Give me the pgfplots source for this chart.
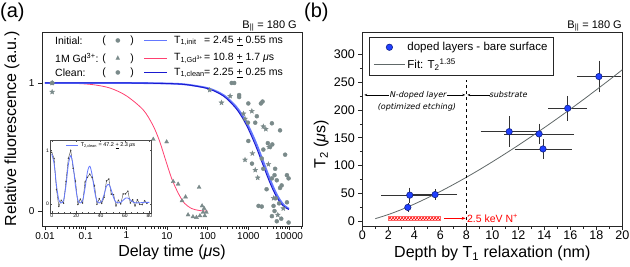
\documentclass[border=0pt]{standalone}
\usepackage{fontspec}
\setmainfont{Liberation Sans}
\newfontfamily\dejavu{DejaVu Sans}
\usepackage{pgfplots}
\pgfplotsset{compat=1.18}
\usetikzlibrary{patterns,arrows.meta}
\definecolor{ptgray}{HTML}{7A8A8A}
\definecolor{lightb}{HTML}{6478FF}
\definecolor{pinkc}{HTML}{FF4070}
\definecolor{darkb}{HTML}{1A1AD0}
\definecolor{bluept}{HTML}{2040FF}
\definecolor{bluedk}{HTML}{10208A}
\definecolor{fitgray}{HTML}{606868}
\pgfdeclareplotmark{fstar}{%
  \pgfpathmoveto{\pgfpointpolar{90}{\pgfplotmarksize}}%
  \pgfpathlineto{\pgfpointpolar{126}{0.42\pgfplotmarksize}}%
  \pgfpathlineto{\pgfpointpolar{162}{\pgfplotmarksize}}%
  \pgfpathlineto{\pgfpointpolar{198}{0.42\pgfplotmarksize}}%
  \pgfpathlineto{\pgfpointpolar{234}{\pgfplotmarksize}}%
  \pgfpathlineto{\pgfpointpolar{270}{0.42\pgfplotmarksize}}%
  \pgfpathlineto{\pgfpointpolar{306}{\pgfplotmarksize}}%
  \pgfpathlineto{\pgfpointpolar{342}{0.42\pgfplotmarksize}}%
  \pgfpathlineto{\pgfpointpolar{18}{\pgfplotmarksize}}%
  \pgfpathlineto{\pgfpointpolar{54}{0.42\pgfplotmarksize}}%
  \pgfpathclose\pgfusepathqfillstroke}
\begin{document}
\begin{tikzpicture}[x=1pt,y=1pt]
\path[use as bounding box] (0,0) rectangle (630,266);
% ---------------- panel (a) ----------------
\begin{axis}[at={(42pt,40pt)}, anchor=south west, scale only axis,
  width=260pt, height=194pt, xmode=log, xmin=0.00844, xmax=20900,
  ymin=-0.117, ymax=1.398,
  xtick={0.01,0.1,1,10,100,1000,10000},
  xticklabels={0.01,0.1,1,10,100,1000,10000},
  minor xtick={0.02,0.03,0.04,0.05,0.06,0.07,0.08,0.09,0.2,0.3,0.4,0.5,0.6,0.7,0.8,0.9,2,3,4,5,6,7,8,9,20,30,40,50,60,70,80,90,200,300,400,500,600,700,800,900,2000,3000,4000,5000,6000,7000,8000,9000,20000},
  ytick={0,1}, tick align=outside, xtick pos=left, ytick pos=left,
  major tick length=4pt, minor tick length=2.5pt,
  axis line style={black!85, line width=0.7pt}, tick style={black!85, line width=0.6pt},
  tick label style={font=\fontsize{10}{12}\selectfont},
  xticklabel style={yshift=1.5pt},
  /pgf/number format/assume math mode=true,
  label style={font=\fontsize{16}{18}\selectfont},
  xlabel={Delay time ({\itshape μ}s)},
  ylabel={Relative fluorescence (a.u.)},
  xlabel style={at={(axis description cs:0.5,-0.135)}, anchor=center},
  ylabel style={at={(axis description cs:-0.115,0.5)}, anchor=center},
]
% Initial (circles)
\addplot[only marks, mark=*, mark size=2pt, mark options={draw=ptgray, fill=ptgray}] coordinates {
(0.015,1.0)(390,1.0)(450,1.0)(594,0.906)(594,0.89)(1000,0.84)(2040,0.84)(2240,0.855)
(1620,0.74)(980,0.69)(1480,0.69)(3800,0.685)(6030,0.63)(1000,0.547)(3020,0.53)(3890,0.52)
(2340,0.48)(3430,0.50)(1230,0.37)(2140,0.41)(8040,0.44)(2340,0.33)(3800,0.255)(4410,0.28)
(5010,0.24)(4570,0.33)(8900,0.28)(9780,0.255)(6600,0.20)(6030,0.18)(2810,0.17)(4730,0.10)
(1780,0.04)(2140,0.035)(4170,0.04)(5710,0.06)(8910,0.068)(4410,0.0)(3800,-0.04)(6460,-0.06)
(5010,-0.08)(9780,-0.09)};
% Clean (stars)
\addplot[only marks, mark=fstar, mark size=2.6pt, mark options={draw=ptgray, fill=ptgray, line width=0.3pt}] coordinates {
(0.015,1.0)(0.015,0.93)(112,0.945)(219,0.846)(357,0.898)(760,0.76)(1220,0.78)(830,0.72)
(2340,0.66)(2690,0.64)(3240,0.50)(830,0.40)(1260,0.45)(1480,0.32)(1700,0.26)(3120,0.365)
(4170,0.10)(7250,0.02)(5310,-0.03)};
% Gd (triangles)
\addplot[only marks, mark=triangle*, mark size=2.3pt, mark options={draw=ptgray, fill=ptgray}] coordinates {
(0.015,1.0)(4.6,0.56)(9.8,0.54)(14.2,0.23)(18.8,0.21)(28.6,0.11)(23.4,0.08)(61.6,0.185)
(73,0.04)(82,0.02)(93,-0.01)(33,-0.03)(43.5,-0.045)(53,-0.05)(64.6,-0.037)(85,-0.037)(77,-0.01)};
% fits
\addplot[pinkc, line width=0.8pt, smooth] coordinates {
(0.01,1)(0.05,0.997)(0.15,0.987)(0.4,0.96)(1,0.9)(2.6,0.79)(4.5,0.67)(6.5,0.55)(9,0.41)
(13,0.255)(19,0.138)(27,0.06)(40,0.02)(50,0.01)(70,0.002)(100,0)};
\addplot[lightb, line width=1.8pt, smooth] coordinates {
(0.01,1)(1,1)(10,0.99593)(30,0.98783)(100,0.96)(200,0.92162)(300,0.88475)(500,0.81539)
(700,0.75148)(1000,0.66487)(1500,0.54216)(2000,0.44205)(3000,0.29391)(4000,0.19543)
(5000,0.12994)(6000,0.0864)(7000,0.05743)(8000,0.03818)(10000,0.01688)};
\addplot[darkb, line width=1pt, smooth] coordinates {
(0.01,1)(1,1)(10,0.99556)(30,0.98676)(100,0.95652)(200,0.91494)(300,0.87517)(500,0.80074)
(700,0.73263)(1000,0.64118)(1500,0.51342)(2000,0.41111)(3000,0.2636)(4000,0.16901)
(5000,0.10836)(6000,0.06948)(7000,0.04455)(8000,0.02856)(10000,0.01174)};
\end{axis}
% ---------------- inset ----------------
\begin{axis}[at={(50pt,52.7pt)}, anchor=south west, scale only axis,
  width=101.7pt, height=73.3pt, xmin=-1.4, xmax=81.9, ymin=-0.175, ymax=1.2,
  axis background/.style={fill=white},
  axis line style={black!70, line width=0.5pt},
  xtick={0,20,40,60,80}, ytick={0,1}, minor x tick num=3,
  major tick length=2pt, minor tick length=1pt, tick style={black!70, line width=0.4pt},
  tick label style={font=\fontsize{5}{6}\selectfont, inner sep=1pt},
  /pgf/number format/assume math mode=true,
  legend style={at={(axis description cs:0.15,1.0)}, anchor=north west, draw=none, fill=none,
    font=\fontsize{5.5}{6}\selectfont, inner sep=0.5pt},
  legend image code/.code={\draw[#1] (0pt,0pt) -- (12pt,0pt);},
]
\addplot[black!75, line width=0.4pt, mark=*, mark size=0.45pt, forget plot] coordinates {
(0,0.97)(1.95,0.856)(3.9,0.271)(5.85,-0.045)(7.8,0.07)(9.75,0.015)(11.7,0.426)(13.65,0.858)
(15.6,1.007)(17.55,0.669)(19.5,0.429)(21.45,-0.01)(23.4,0.09)(25.35,0.017)(27.3,0.413)
(29.25,0.5)(31.2,0.559)(33.15,0.491)(35.1,0.34)(37.05,-0.006)(39,0.1)(40.95,0.009)
(42.9,0.126)(44.85,0.432)(46.8,0.467)(48.75,0.184)(50.7,0.176)(52.65,-0.036)(54.6,0.07)
(56.55,0.0)(58.5,0.189)(60.45,0.19)(62.4,0.241)(64.35,0.018)(66.3,0.081)(68.25,-0.037)
(70.2,0.08)(72.15,-0.008)(74.1,-0.013)(76.05,0.061)(78,0.01)};
\addplot[lightb, line width=0.8pt, smooth] coordinates {
(0,0.94)(1.95,0.756)(3.9,0.351)(5.85,0.075)(7.8,0.02)(9.75,0.075)(11.7,0.346)(13.65,0.738)
(15.6,0.907)(17.55,0.719)(19.5,0.329)(21.45,0.07)(23.4,0.02)(25.35,0.067)(27.3,0.293)
(29.25,0.6)(31.2,0.709)(33.15,0.541)(35.1,0.24)(37.05,0.054)(39,0.02)(40.95,0.049)
(42.9,0.176)(44.85,0.332)(46.8,0.367)(48.75,0.264)(50.7,0.116)(52.65,0.034)(54.6,0.02)
(56.55,0.03)(58.5,0.069)(60.45,0.11)(62.4,0.111)(64.35,0.078)(66.3,0.041)(68.25,0.023)
(70.2,0.02)(72.15,0.022)(74.1,0.027)(76.05,0.031)(78,0.03)(80,0.03)};
\addlegendentry{T\textsubscript{2,clean} = 47.2 \underline{+} 2.3 {\itshape μ}s}
\end{axis}
% legend of (a)
\begin{scope}[every node/.style={inner sep=0pt, font=\fontsize{10.5}{12}\selectfont}]
\node[anchor=west] at (55,225.3) {Initial:};
\node[anchor=west] at (55,207.7) {1M Gd\textsuperscript{3+}:};
\node[anchor=west] at (55,193.3) {Clean:};
\foreach \yy in {225.3,207.7,193.3} {
  \node at (104,\yy) {(};
  \node at (132,\yy) {)};
}
\node[text=ptgray, font=\dejavu\fontsize{6}{7}\selectfont] at (118,225.3) {●};
\node[text=ptgray, font=\dejavu\fontsize{6}{7}\selectfont] at (118,207.7) {▲};
\node[text=ptgray, font=\dejavu\fontsize{6}{7}\selectfont] at (118,193.3) {●};
\draw[lightb, line width=1.3pt] (144,225.3) -- (167,225.3);
\draw[pinkc, line width=0.8pt] (144,207.7) -- (167,207.7);
\draw[darkb, line width=1.1pt] (144,193.3) -- (167,193.3);
\node[anchor=west] at (174,225.3) {T\textsubscript{1,init}};
\node[anchor=west] at (174,207.7) {T\textsubscript{1,Gd\textsuperscript{3+}}};
\node[anchor=west] at (174,193.3) {T\textsubscript{1,clean}};
\node[anchor=west] at (204,225.3) {= 2.45 \underline{+} 0.55 ms};
\node[anchor=west] at (204,207.7) {= 10.8 \underline{+} 1.7 {\itshape μ}s};
\node[anchor=west] at (204,193.3) {= 2.25 \underline{+} 0.25 ms};
\end{scope}
\node[anchor=north west, inner sep=0pt, font=\fontsize{20}{22}\selectfont] at (0,263) {(a)};
\node[anchor=north west, inner sep=0pt, font=\fontsize{20}{22}\selectfont] at (304,263) {(b)};
\node[anchor=base east, inner sep=0pt, font=\fontsize{11}{13}\selectfont] at (297,238) {B\textsubscript{||} = 180 G};
\node[anchor=base east, inner sep=0pt, font=\fontsize{11}{13}\selectfont] at (622,238) {B\textsubscript{||} = 180 G};
% ---------------- panel (b) ----------------
\begin{axis}[at={(362.3pt,40pt)}, anchor=south west, scale only axis,
  width=260pt, height=194pt, xmin=0, xmax=20, ymin=-8.4, ymax=340,
  xtick={0,2,...,20}, ytick={0,50,...,300}, minor x tick num=1, minor y tick num=1,
  tick align=outside, xtick pos=left, ytick pos=left,
  major tick length=4pt, minor tick length=2.5pt,
  axis line style={black!85, line width=0.7pt}, tick style={black!85, line width=0.6pt},
  tick label style={font=\fontsize{12.5}{14}\selectfont},
  xticklabel style={yshift=2.5pt},
  /pgf/number format/assume math mode=true,
  label style={font=\fontsize{16}{18}\selectfont},
  xlabel={Depth by T\textsubscript{1} relaxation (nm)},
  ylabel={T\textsubscript{2} ({\itshape μ}s)},
  xlabel style={at={(axis description cs:0.5,-0.142)}, anchor=center},
  ylabel style={at={(axis description cs:-0.158,0.42)}, anchor=center},
  legend style={at={(axis description cs:0.026,0.974)}, anchor=north west,
    draw=black!85, line width=0.6pt, font=\fontsize{11.5}{13}\selectfont,
    inner xsep=4pt, inner ysep=3pt, row sep=2.5pt},
  legend cell align=left,
  legend image code/.code={\draw[mark repeat=2, mark phase=2, #1] plot coordinates {(0cm,0cm) (0.55cm,0cm) (1.1cm,0cm)};},
]
\addplot[pattern=crosshatch, pattern color=red, draw=red!60, line width=0.3pt, forget plot] coordinates {(2,2.5)(6,2.5)(6,9.5)(2,9.5)(2,2.5)};
\addplot[only marks, mark=*, mark size=3.2pt, mark options={fill=bluept, draw=bluedk, line width=0.6pt},
  error bars/.cd, x dir=both, x explicit, y dir=both, y explicit,
  error bar style={black!80, line width=0.6pt}, error mark options={black!80, line width=0.6pt, mark size=2.5pt}]
  table[x=x, y=y, x error=ex, y error=ey] {
x y ex ey
3.5 25 0 3
3.65 47 2.0 9
5.6 48 1.5 5
11.3 161 2.0 23
13.6 157 2.5 14
13.9 130 2.0 13
15.8 203 1.3 18
18.2 260 1.5 24
};
\addlegendentry{doped layers - bare surface}
\addplot[fitgray, line width=0.8pt, smooth] coordinates {
(1,4.77)(2,12.16)(3,21.02)(4,31.0)(5,41.9)(6,53.6)(7,66.0)(8,79.0)(9,92.6)(10,106.8)
(11,121.5)(12,136.6)(13,152.2)(14,168.2)(15,184.6)(16,201.4)(17,218.5)(18,236.1)(19,253.9)(20,272.2)};
\addlegendentry{Fit: T\textsubscript{2}\textsuperscript{1.35}}
\draw[dashed, black, line width=0.7pt] (axis cs:8,-8.4) -- (axis cs:8,254);
\draw[{Stealth[length=3pt]}-{Stealth[length=3pt]}, line width=0.5pt] (axis cs:0.15,227) -- (axis cs:7.92,227);
\node[fill=white, inner sep=1pt, font=\dejavu\itshape\fontsize{8}{9}\selectfont] at (axis cs:4.3,227) {N-doped layer};
\draw[{Stealth[length=3pt]}-, line width=0.5pt] (axis cs:8.08,227) -- (axis cs:9.8,227);
\node[anchor=west, inner sep=1pt, font=\dejavu\itshape\fontsize{8}{9}\selectfont] at (axis cs:9.7,227) {substrate};
\node[inner sep=1pt, font=\dejavu\itshape\fontsize{8}{9}\selectfont] at (axis cs:4.2,204) {(optimized etching)};
\draw[-{Stealth[length=4pt]}, red, line width=0.8pt] (axis cs:6.3,5.4) -- (axis cs:7.95,5.4);
\node[anchor=west, text=red, inner sep=0.5pt, font=\fontsize{10.5}{12}\selectfont] at (axis cs:8.0,5.4) {2.5 keV N\textsuperscript{+}};
\end{axis}
\end{tikzpicture}
\end{document}
